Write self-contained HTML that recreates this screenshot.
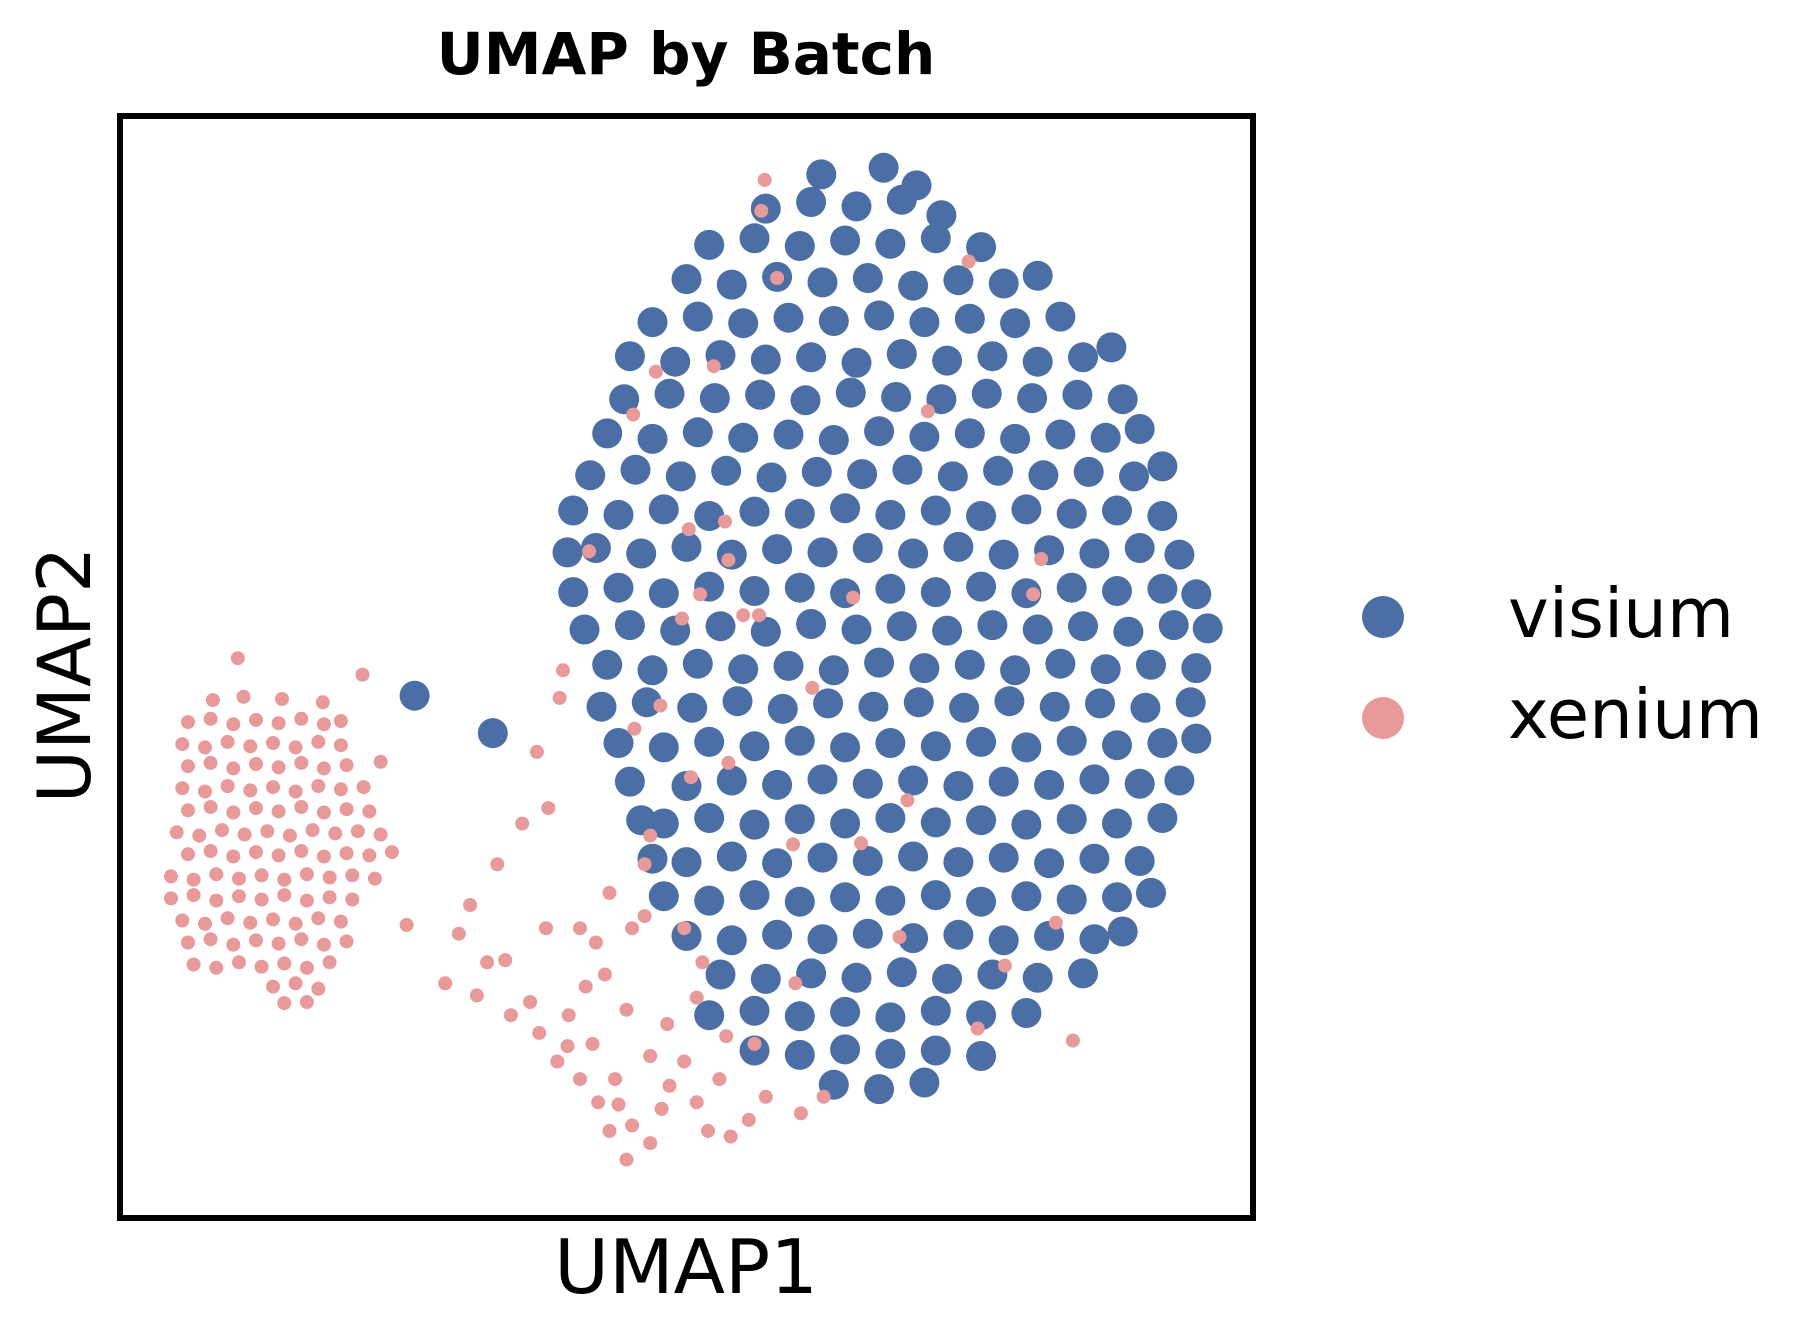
<!DOCTYPE html>
<html><head><meta charset="utf-8"><style>
html,body{margin:0;padding:0;background:#fff;}
svg{display:block;}
text{font-family:"DejaVu Sans","Liberation Sans",sans-serif;}
</style></head><body>
<svg id="chart" width="1818" height="1339" viewBox="0 0 1818 1339" xmlns="http://www.w3.org/2000/svg">
<rect width="1818" height="1339" fill="#fff"/>
<text x="686" y="74" text-anchor="middle" font-weight="bold" font-size="58">UMAP by Batch</text>
<g id="points"></g>
<rect x="120" y="116" width="1133" height="1102" fill="none" stroke="#000" stroke-width="6"/>
<text x="686" y="1293" text-anchor="middle" font-size="75">UMAP1</text>
<text transform="translate(90,675) rotate(-90)" text-anchor="middle" font-size="73">UMAP2</text>
<g>
<circle cx="1383" cy="617" r="21" fill="#4b6fa5"/>
<text x="1508" y="637" font-size="69">visium</text>
<circle cx="1383" cy="718" r="21" fill="#e8999a"/>
<text x="1508" y="738" font-size="69">xenium</text>
</g>
</svg>
<script>
const categories = ["visium", "xenium"];
const xDomain = [0, 100];
const yDomain = [0, 100];
const visium = [
[61.9,94.7],[67.4,95.3],[70.3,93.7],
[57,91.6],[61,92.2],[65,91.8],[69,92.4],[72.5,91],
[52,88.3],[56,88.9],[60,88.2],[64,88.7],[68,88.4],[72,88.9],[76,88.1],
[50,85.2],[54,84.7],[58,85.4],[62,84.9],[66,85.3],[70,84.6],[74,85.1],[78,84.8],[81,85.5],
[47,81.3],[51,81.8],[55,81.2],[59,81.7],[63,81.4],[67,81.9],[71,81.3],[75,81.6],[79,81.2],[83,81.8],
[45,78.2],[49,77.7],[53,78.3],[57,77.9],[61,78.1],[65,77.6],[69,78.4],[73,77.8],[77,78.2],[81,77.7],[85,78.1],[87.5,79],
[44.5,74.3],[48.5,74.8],[52.5,74.4],[56.5,74.7],[60.5,74.2],[64.5,74.9],[68.5,74.5],[72.5,74.3],[76.5,74.8],[80.5,74.4],[84.5,74.7],[88.5,74.3],
[43,71.2],[47,70.7],[51,71.3],[55,70.8],[59,71.1],[63,70.6],[67,71.4],[71,70.9],[75,71.2],[79,70.7],[83,71.1],[87,70.8],[90,71.6],
[41.5,67.4],[45.5,67.9],[49.5,67.3],[53.5,67.8],[57.5,67.2],[61.5,67.7],[65.5,67.5],[69.5,67.9],[73.5,67.3],[77.5,67.8],[81.5,67.4],[85.5,67.7],[89.5,67.3],[92,68.2],
[40,64.2],[44,63.8],[48,64.3],[52,63.7],[56,64.1],[60,63.9],[64,64.4],[68,63.8],[72,64.2],[76,63.7],[80,64.3],[84,63.9],[88,64.2],[92,63.7],
[39.5,60.4],[42,60.8],[46,60.3],[50,60.9],[54,60.2],[58,60.7],[62,60.4],[66,60.8],[70,60.3],[74,60.9],[78,60.2],[82,60.6],[86,60.3],[90,60.8],[93.5,60.2],
[40,56.8],[44,57.2],[48,56.7],[52,57.3],[56,56.9],[60,57.2],[64,56.7],[68,57.1],[72,56.8],[76,57.3],[80,56.7],[84,57.2],[88,56.9],[92,57.1],[95,56.6],
[41,53.4],[45,53.8],[49,53.3],[53,53.7],[57,53.2],[61,53.9],[65,53.4],[69,53.7],[73,53.3],[77,53.8],[81,53.4],[85,53.7],[89,53.2],[93,53.8],[96,53.5],
[43,50.2],[47,49.7],[51,50.3],[55,49.8],[59,50.1],[63,49.7],[67,50.4],[71,49.9],[75,50.2],[79,49.7],[83,50.3],[87,49.8],[91,50.2],[95,49.9],
[42.5,46.4],[46.5,46.8],[50.5,46.3],[54.5,46.9],[58.5,46.2],[62.5,46.7],[66.5,46.4],[70.5,46.8],[74.5,46.3],[78.5,46.9],[82.5,46.4],[86.5,46.7],[90.5,46.3],[94.5,46.8],
[44,43.1],[48,42.7],[52,43.2],[56,42.8],[60,43.3],[64,42.7],[68,43.1],[72,42.8],[76,43.2],[80,42.7],[84,43.3],[88,42.9],[92,43.1],[95,43.5],
[45,39.6],[50,39.2],[54,39.7],[58,39.3],[62,39.8],[66,39.4],[70,39.7],[74,39.2],[78,39.6],[82,39.3],[86,39.8],[90,39.4],[93.5,39.7],
[46,36.1],[48,35.8],[52,36.3],[56,35.7],[60,36.2],[64,35.8],[68,36.3],[72,35.9],[76,36.1],[80,35.7],[84,36.2],[88,35.8],[92,36.3],
[47,32.6],[50,32.3],[54,32.8],[58,32.2],[62,32.7],[66,32.4],[70,32.8],[74,32.3],[78,32.7],[82,32.2],[86,32.6],[90,32.4],
[48,29.2],[52,28.8],[56,29.3],[60,28.7],[64,29.1],[68,28.8],[72,29.3],[76,28.7],[80,29.2],[84,28.9],[88,29.1],[91,29.5],
[50,25.6],[54,25.2],[58,25.7],[62,25.3],[66,25.8],[70,25.4],[74,25.7],[78,25.2],[82,25.6],[86,25.3],[88.5,26],
[53,22.1],[57,21.7],[61,22.2],[65,21.8],[69,22.3],[73,21.7],[77,22.1],[81,21.8],[85,22.2],
[52,18.4],[56,18.8],[60,18.3],[64,18.7],[68,18.2],[72,18.8],[76,18.4],[80,18.6],
[56,15.2],[60,14.8],[64,15.3],[68,14.9],[72,15.2],[76,14.7],
[63,12.1],[67,11.7],[71,12.3],
[26,47.4],[32.9,44]
];
const xenium = [
[10.4,50.8],[21.4,49.3],
[8.2,47],[10.9,47.3],[14.3,47.1],[17.9,46.8],
[6,45],[8,45.3],[10,44.8],[12,45.2],[14,44.9],[16,45.3],[18,44.8],[19.5,45.1],
[5.5,43],[7.5,42.7],[9.5,43.2],[11.5,42.8],[13.5,43.1],[15.5,42.7],[17.5,43.2],[19.5,42.9],
[6,41],[8,41.3],[10,40.8],[12,41.2],[14,40.9],[16,41.3],[18,40.8],[20,41.1],[23,41.4],
[5.5,39],[7.5,38.7],[9.5,39.2],[11.5,38.8],[13.5,39.1],[15.5,38.7],[17.5,39.2],[19.5,38.9],[21.5,39.1],
[6,37],[8,37.3],[10,36.8],[12,37.2],[14,36.9],[16,37.3],[18,36.8],[20,37.1],[22,36.9],
[5,35],[7,34.7],[9,35.2],[11,34.8],[13,35.1],[15,34.7],[17,35.2],[19,34.9],[21,35.1],[23,34.8],
[6,33],[8,33.3],[10,32.8],[12,33.2],[14,32.9],[16,33.3],[18,32.8],[20,33.1],[22,32.9],[24,33.2],
[4.5,31],[6.5,30.7],[8.5,31.2],[10.5,30.8],[12.5,31.1],[14.5,30.7],[16.5,31.2],[18.5,30.9],[20.5,31.1],[22.5,30.8],
[4.5,29],[6.5,29.3],[8.5,28.8],[10.5,29.2],[12.5,28.9],[14.5,29.3],[16.5,28.8],[18.5,29.1],[20.5,28.9],
[5.5,27],[7.5,26.7],[9.5,27.2],[11.5,26.8],[13.5,27.1],[15.5,26.7],[17.5,27.2],[19.5,26.9],[25.3,26.6],
[6,25],[8,25.3],[10,24.8],[12,25.2],[14,24.9],[16,25.3],[18,24.8],[20,25.1],
[6.5,23],[8.5,22.7],[10.5,23.2],[12.5,22.8],[14.5,23.1],[16.5,22.7],[18.5,23.2],
[13.5,21],[15.5,21.3],[17.5,20.8],[14.5,19.5],[16.5,19.6],
[39.1,49.7],[38.8,47.2],[36.8,42.3],[35.5,35.8],[37.8,37.2],[33.3,32.1],[30.9,28.4],[29.9,25.8],[28.7,21.3],[32.4,23.2],
[34.5,18.4],[37,16.8],[39.6,18.4],[40.6,26.3],[43.2,29.5],[46.3,32.1],[45.2,26.3],[42.8,22.1],[44.7,18.9],
[46.8,14.7],[49.8,14.2],[52.9,12.6],[41.7,15.8],[43.7,12.6],[43.2,7.9],[45.2,8.4],[44.7,5.3],[46.8,6.8],
[50.9,10.5],[51.9,7.9],[53.9,7.4],[55.5,8.9],[57,11],[60.1,9.5],[62.1,11],[56,15.8],[50.9,20],[51.4,23.2],
[49.8,26.3],[46.8,34.7],[46.3,27.4],[37.6,26.3],[41.1,21],[38.6,14.2],[40.6,12.6],[42.2,10.5],[44,10.3],
[47.8,9.9],[48.5,12],[39.5,15.6],[36.2,19.6],[34,23.4],[31.5,20.2],[53.5,16.5],[48.3,17.6],[42,25],
[56.9,94.2],[56.6,91.4],[58,85.3],[74.9,86.8],[52.4,77.3],[47.3,76.8],[71.3,73.2],[45.3,72.9],[53.4,63.2],
[50.2,62.5],[53.7,59.7],[41.4,60.5],[51.2,56.6],[49.6,54.4],[64.7,56.3],[55,54.7],[56.4,54.7],[80.6,56.6],
[81.3,59.8],[61.1,48.1],[47.7,46.5],[45.4,44.4],[53.7,41.3],[50.4,40],[69.5,37.9],[65.4,34],[59.4,33.9],
[82.6,26.8],[78.1,22.9],[75.7,17.2],[84.1,16.1],[59.6,21.3],[68.8,25.5]
];
const plot = {left:120, top:116, right:1253, bottom:1218};
function xScale(v){ return plot.left + (v - xDomain[0]) / (xDomain[1] - xDomain[0]) * (plot.right - plot.left); }
function yScale(v){ return plot.bottom - (v - yDomain[0]) / (yDomain[1] - yDomain[0]) * (plot.bottom - plot.top); }
const NS = "http://www.w3.org/2000/svg";
const g = document.getElementById("points");
function drawSeries(arr, color, r, name){
  for (const p of arr){
    const c = document.createElementNS(NS, "circle");
    c.setAttribute("cx", xScale(p[0]).toFixed(1));
    c.setAttribute("cy", yScale(p[1]).toFixed(1));
    c.setAttribute("r", r);
    c.setAttribute("fill", color);
    
    
    g.appendChild(c);
  }
}
drawSeries(visium, "#4b6fa5", 15, "visium-point");
drawSeries(xenium, "#e8999a", 7, "xenium-point");
</script>
</body></html>
